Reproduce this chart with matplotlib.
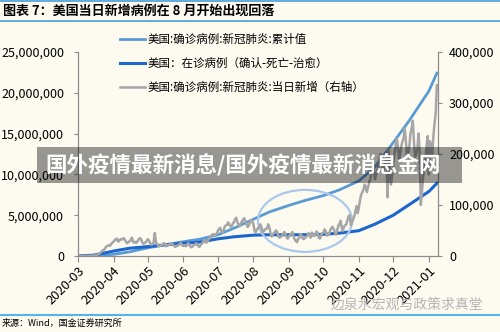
import matplotlib
matplotlib.use("Agg")
import matplotlib.pyplot as plt
import matplotlib.dates as mdates
from matplotlib.patches import Ellipse, Rectangle
from matplotlib.lines import Line2D
from matplotlib.ticker import FuncFormatter
import pandas as pd

plt.rcParams['font.family'] = ['Noto Sans CJK SC', 'DejaVu Sans']

# 累计确诊 / 在诊病例（百万），半月读数
knot_dates = ["2020-03-01", "2020-03-15", "2020-04-01", "2020-04-15", "2020-05-01",
              "2020-05-15", "2020-06-01", "2020-06-15", "2020-07-01", "2020-07-15",
              "2020-08-01", "2020-08-15", "2020-09-01", "2020-09-15", "2020-10-01",
              "2020-10-15", "2020-11-01", "2020-11-15", "2020-12-01", "2020-12-15",
              "2021-01-01", "2021-01-08"]
cumul = [0.0, 0.0, 0.2, 0.5, 1.0, 1.35, 1.75, 2.05, 2.6, 3.4, 4.5, 5.4, 6.2, 6.8,
         7.4, 8.1, 9.2, 10.9, 13.9, 16.6, 20.2, 22.4]
actifs = [0.0, 0.1, 0.6, 0.95, 1.15, 1.35, 1.55, 1.7, 2.1, 2.35, 2.55, 2.6, 2.6, 2.6,
          2.65, 2.8, 3.1, 3.9, 5.0, 6.3, 7.9, 8.9]

# 当日新增（千例），每周7天，从2020-03-01起
nouveaux = [
    0.01, 0.02, 0.03, 0.03, 0.05, 0.08, 0.07,
    0.1, 0.1, 0.3, 0.4, 0.5, 0.6, 0.7,
    0.8, 1, 1.5, 2.5, 4, 5, 7,
    10, 11, 13, 16, 19, 20, 21,
    20, 24, 26, 28, 31, 33, 34,
    28, 30, 33, 32, 34, 35, 31,
    27, 25, 27, 29, 31, 36, 28,
    26, 28, 26, 29, 33, 35, 33,
    27, 24, 25, 27, 30, 33, 29,
    25, 22, 23, 27, 45, 26, 24,
    20, 19, 21, 21, 22, 25, 24,
    19, 21, 21, 22, 25, 24, 22,
    19, 18, 20, 20, 22, 24, 25,
    20, 20, 21, 19, 21, 25, 23,
    18, 17, 19, 21, 22, 25, 22,
    19, 18, 22, 24, 27, 31, 30,
    26, 29, 33, 36, 39, 42, 43,
    40, 42, 44, 49, 53, 55, 49,
    46, 50, 58, 60, 61, 66, 61,
    58, 57, 64, 66, 72, 75, 66,
    62, 58, 63, 68, 71, 74, 68,
    62, 57, 60, 66, 70, 68, 62,
    49, 46, 52, 54, 57, 62, 56,
    47, 48, 52, 53, 55, 62, 55,
    44, 38, 43, 45, 48, 50, 45,
    38, 36, 38, 40, 44, 47, 43,
    36, 34, 38, 41, 43, 47, 39,
    32, 30, 27, 34, 35, 43, 40,
    34, 33, 36, 37, 40, 45, 40,
    36, 46, 40, 39, 43, 48, 45,
    36, 34, 41, 44, 45, 52, 49,
    40, 41, 43, 50, 55, 57, 53,
    46, 42, 50, 59, 63, 69, 55,
    49, 58, 60, 62, 70, 78, 80,
    60, 66, 72, 78, 88, 98, 84,
    95, 110, 120, 125, 130, 140, 135,
    125, 135, 145, 150, 165, 185, 175,
    150, 160, 165, 175, 190, 200, 185,
    165, 175, 180, 200, 115, 210, 165,
    140, 160, 180, 200, 215, 230, 215,
    190, 200, 215, 225, 230, 250, 225,
    195, 200, 215, 240, 250, 265, 225,
    195, 200, 210, 240, 205, 100, 125,
    155, 170, 190, 215, 235, 160, 225,
    210, 200, 235, 260, 280, 335,
]

labels = ["美国:确诊病例:新冠肺炎:累计值",
          "美国：在诊病例（确认-死亡-治愈）",
          "美国:确诊病例:新冠肺炎:当日新增（右轴）"]

bg = '#fdfaf0'
knots = pd.to_datetime(knot_dates)
jours = pd.date_range("2020-03-01", periods=len(nouveaux), freq="D")

fig = plt.figure(figsize=(5, 3.32), dpi=100, facecolor=bg)
ax = fig.add_axes([0.156, 0.229, 0.72, 0.6145])
ax.set_facecolor(bg)
ax2 = ax.twinx()

l1, = ax.plot(knots, [v * 1e6 for v in cumul], color='#5b9bd5', lw=2.0)
l2, = ax.plot(knots, [v * 1e6 for v in actifs], color='#1a66cc', lw=2.2)
l3, = ax2.plot(jours, [v * 1e3 for v in nouveaux], color='#a6a6a6', lw=1.8)

ax.set_ylim(0, 25e6)
ax2.set_ylim(0, 4e5)
ax.set_yticks(range(0, 25000001, 5000000))
ax2.set_yticks(range(0, 400001, 100000))
fmt = FuncFormatter(lambda v, p: f"{v:,.0f}")
ax.yaxis.set_major_formatter(fmt)
ax2.yaxis.set_major_formatter(fmt)
ax.set_xlim(pd.Timestamp("2020-03-01"), pd.Timestamp("2021-01-09"))
ax.xaxis.set_major_locator(mdates.MonthLocator())
ax.xaxis.set_major_formatter(mdates.DateFormatter("%Y-%m"))

for a in (ax, ax2):
    a.spines['top'].set_visible(False)
    for s in a.spines.values():
        s.set_color('#8c8c8c')
        s.set_linewidth(0.8)
    a.tick_params(colors='#8c8c8c', labelcolor='black', labelsize=9, length=3, width=0.8)
ax.tick_params(axis='y', pad=7)
ax2.tick_params(axis='y', pad=5)
ax.tick_params(axis='x', length=4, pad=2, labelsize=9.3)
for t in ax.get_xticklabels():
    t.set_rotation(45)
    t.set_ha('right')
    t.set_rotation_mode('anchor')

# 椭圆标注
cx = mdates.date2num(pd.Timestamp("2020-09-15"))
ax.add_patch(Ellipse((cx, 4.3e6), 82, 7.6e6, fill=False, edgecolor='#a9c9ec', lw=1.6, zorder=5))
ax2.set_zorder(ax.get_zorder() + 1)
ax2.patch.set_visible(False)

fig.legend([l1, l2, l3], labels, loc='upper left', bbox_to_anchor=(0.24, 0.9),
           frameon=False, fontsize=8.3, handlelength=2.2, handletextpad=0.2,
           labelspacing=0.95, borderpad=0, borderaxespad=0)

# 标题与页脚
fig.add_artist(Line2D([0, 1], [0.997, 0.997], color='#4a9bd9', lw=1.2))
fig.add_artist(Line2D([0, 1], [0.937, 0.937], color='#4a9bd9', lw=1.2))
fig.text(0.006, 0.968, "图表 7：美国当日新增病例在 8 月开始出现回落", fontsize=9.4, fontweight='bold',
         va='center', ha='left')
fig.add_artist(Line2D([0, 1], [0.05, 0.05], color='#55b5ea', lw=1.5))
fig.text(0.004, 0.026, "来源：Wind，国金证券研究所", fontsize=6.5, va='center', ha='left')
fig.text(0.966, 0.082, "边泉水宏观与政策求真堂", fontsize=10, color='#b5b5b5', va='center', ha='right')

# 水印条
fig.add_artist(Rectangle((0.074, 0.449), 0.85, 0.108, transform=fig.transFigure,
                         facecolor='black', alpha=0.4, edgecolor='none', zorder=20))
fig.text(0.09, 0.503, "国外疫情最新消息/国外疫情最新消息金网", fontsize=15.5, fontweight='bold',
         color='white', va='center', ha='left', zorder=21)

fig.savefig("out.png", dpi=100, facecolor=bg)
